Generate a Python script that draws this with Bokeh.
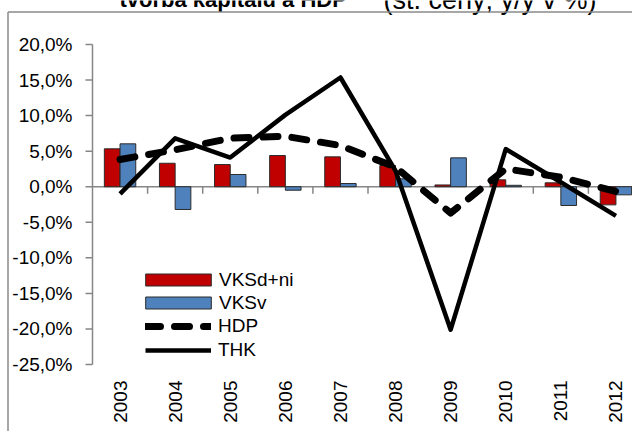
import math
from bokeh.plotting import figure
from bokeh.models import Range1d, Legend, LegendItem, ColumnDataSource
from bokeh.core.properties import value
from bokeh.embed import file_html
from bokeh.resources import INLINE

# ---- data -------------------------------------------------------------
title_bold = "tvorba kapitálu a HDP"
title_rest = "(st. ceny; y/y v %)"
years = ["2003", "2004", "2005", "2006", "2007", "2008", "2009", "2010", "2011", "2012"]
vksd_ni = [5.33, 3.3, 3.12, 4.39, 4.2, 2.98, 0.25, 0.97, 0.55, -2.55]
vksv = [6.03, -3.2, 1.72, -0.49, 0.45, 1.11, 4.06, 0.2, -2.64, -1.14]
hdp = [3.83, 5.19, 6.82, 7.1, 5.79, 2.74, -3.7, 2.52, 1.34, -0.68]
thk = [-1.0, 6.8, 4.1, 10.1, 15.36, 2.24, -20.1, 5.3, 0.63, -4.1]
y_ticks = [-25, -20, -15, -10, -5, 0, 5, 10, 15, 20]
y_tick_labels = ["-25,0%", "-20,0%", "-15,0%", "-10,0%", "-5,0%",
                 "0,0%", "5,0%", "10,0%", "15,0%", "20,0%"]

FONT = "Liberation Sans"
RED = "#C00000"
BLUE = "#4F81BD"
AXIS = "#868686"
BORDER = "#8a8a8a"

# ---- geometry (pixels of the 632x431 canvas) ---------------------------
W, H = 632, 431
PLOT_L, PLOT_T, PLOT_B = 92, 44, 364           # plot area edges
CAT_PX = 55.1                                  # width of one category
Y_PX = (PLOT_B - PLOT_T) / (y_ticks[-1] - y_ticks[0])


def xd(px):  # canvas x pixel -> data x
    return -0.5 + (px - PLOT_L) / CAT_PX


def yd(py):  # canvas y pixel -> data y
    return y_ticks[-1] - (py - PLOT_T) / Y_PX


pos = list(range(len(years)))
bar_w = 0.285
src = ColumnDataSource(dict(
    x_red=[p_ - bar_w / 2 for p_ in pos],
    x_blue=[p_ + bar_w / 2 for p_ in pos],
    x=pos, red=vksd_ni, blue=vksv, hdp=hdp, thk=thk,
))

p = figure(width=W, height=H, output_backend="svg", toolbar_location=None,
           x_range=Range1d(xd(0), xd(W)), y_range=Range1d(yd(H), yd(0)),
           x_axis_type=None, y_axis_type=None,
           min_border_left=0, min_border_right=0,
           min_border_top=0, min_border_bottom=0)
p.outline_line_color = None
p.background_fill_color = "white"
p.border_fill_color = "white"
p.grid.visible = False

# title, cut off at the top edge like in the reference
p.text(x=[xd(119)], y=[yd(-1)], text=[title_bold], text_font=value(FONT),
       text_font_size="22px", text_font_style="bold", text_color="black",
       text_baseline="alphabetic", text_align="left")
p.text(x=[xd(383)], y=[yd(-1)], text=[title_rest], text_font=value(FONT),
       text_font_size="27px", text_color="black",
       text_baseline="alphabetic", text_align="left")

# chart-area border (top and left edges visible)
bx, by = xd(7.5), yd(11.5)
p.segment(x0=[bx, bx], y0=[by, by], x1=[xd(W + 5), bx], y1=[by, yd(H + 5)],
          line_color=BORDER, line_width=1.5)

# value axis: line, ticks, labels
x_axis_pos = xd(PLOT_L)
p.segment(x0=[x_axis_pos], y0=[y_ticks[0]], x1=[x_axis_pos], y1=[y_ticks[-1]],
          line_color=AXIS, line_width=1.5)
p.segment(x0=[xd(PLOT_L - 7)] * len(y_ticks), y0=y_ticks,
          x1=[x_axis_pos] * len(y_ticks), y1=y_ticks,
          line_color=AXIS, line_width=1.5)
p.text(x=[xd(72)] * len(y_ticks), y=y_ticks, text=y_tick_labels,
       text_font=value(FONT), text_font_size="19px", text_color="black",
       text_align="right", text_baseline="middle")

# category axis: line at zero, boundary ticks, labels at the bottom
p.segment(x0=[x_axis_pos], y0=[0], x1=[xd(W + 5)], y1=[0],
          line_color=AXIS, line_width=1.5)
bounds = [i + 0.5 for i in pos]
p.segment(x0=bounds, x1=bounds, y0=[0] * len(bounds), y1=[-7 / Y_PX] * len(bounds),
          line_color=AXIS, line_width=1.5)
p.text(x=pos, y=[yd(PLOT_B + 16)] * len(pos), text=years, angle=math.pi / 2,
       text_font=value(FONT), text_font_size="19px", text_color="black",
       text_align="right", text_baseline="middle")

# data
r_red = p.vbar(x="x_red", top="red", bottom=0, width=bar_w, source=src,
               fill_color=RED, line_color="#2b2b2b", line_width=1)
r_blue = p.vbar(x="x_blue", top="blue", bottom=0, width=bar_w, source=src,
                fill_color=BLUE, line_color="#2b2b2b", line_width=1)
r_hdp = p.line(x="x", y="hdp", source=src, line_color="black", line_width=7,
               line_dash="15 14", line_cap="round", line_join="round")
r_thk = p.line(x="x", y="thk", source=src, line_color="black", line_width=4.5,
               line_join="round")

leg1 = Legend(items=[LegendItem(label="VKSd+ni", renderers=[r_red]),
                     LegendItem(label="VKSv", renderers=[r_blue])],
              location=(137, H - 314), glyph_width=82, glyph_height=15,
              label_height=23, spacing=0, label_standoff=0, padding=0, margin=0,
              border_line_color=None, background_fill_alpha=0,
              label_text_font=FONT, label_text_font_size="19px",
              label_text_color="black")
leg2 = Legend(items=[LegendItem(label="HDP", renderers=[r_hdp]),
                     LegendItem(label="THK", renderers=[r_thk])],
              location=(145, H - 362), glyph_width=66, glyph_height=24,
              label_height=24, spacing=0, label_standoff=7, padding=0, margin=0,
              border_line_color=None, background_fill_alpha=0,
              label_text_font=FONT, label_text_font_size="19px",
              label_text_color="black")
p.add_layout(leg1, "center")
p.add_layout(leg2, "center")

open("out.html", "w").write(file_html(p, INLINE))
